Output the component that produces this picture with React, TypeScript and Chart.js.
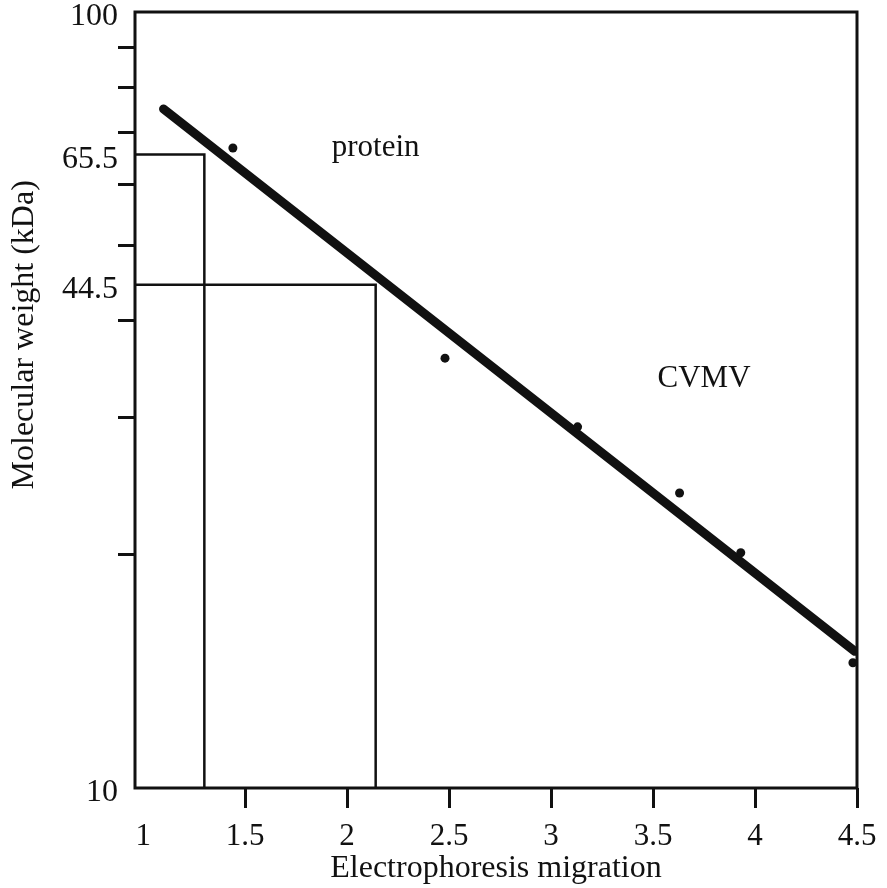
import React, { useEffect, useRef } from "react";
import { Chart, registerables } from "chart.js";

Chart.register(...registerables);

// ---- data ----
const xTickValues = [1, 1.5, 2, 2.5, 3, 3.5, 4, 4.5];
const yTickValues = [10, 20, 30, 40, 44.5, 50, 60, 65.5, 70, 80, 90, 100];
const yLabeledValues = [10, 44.5, 65.5, 100];

const migration = [1.44, 2.48, 3.13, 3.63, 3.93, 4.48];
const molecularWeight = [66.8, 35.8, 29.2, 24.0, 20.1, 14.5];

const fitMigration = [1.1, 4.49];
const fitWeight = [75, 15];

const proteinMigration = [1.3, 2.14];
const proteinWeight = [65.5, 44.5];

const annotationText = ["protein", "CVMV"];
const annotationMigration = [2.14, 3.75];
const annotationWeight = [66.8, 33.7];

const X_MIN = 0.96;
const X_MAX = 4.5;
const Y_MIN = 10;
const Y_MAX = 100;

const FONT_FAMILY = '"Liberation Serif", "Times New Roman", Times, serif';
const INK = "#111";

const overlayPlugin = {
  id: "overlay",
  afterDraw(chart: any) {
    const { ctx, chartArea: a, scales } = chart;
    ctx.save();
    ctx.strokeStyle = INK;
    ctx.lineWidth = 3;
    ctx.strokeRect(a.left, a.top, a.right - a.left, a.bottom - a.top);
    ctx.fillStyle = INK;
    ctx.font = `31px ${FONT_FAMILY}`;
    ctx.textAlign = "center";
    ctx.textBaseline = "middle";
    annotationText.forEach((t, i) => {
      ctx.fillText(
        t,
        scales.x.getPixelForValue(annotationMigration[i]),
        scales.y.getPixelForValue(annotationWeight[i])
      );
    });
    ctx.font = `32px ${FONT_FAMILY}`;
    ctx.translate(25, a.top + (a.bottom - a.top) * 0.416);
    ctx.rotate(-Math.PI / 2);
    ctx.fillText("Molecular weight (kDa)", 0, 0);
    ctx.restore();
  },
};

export default function App() {
  const ref = useRef<HTMLCanvasElement | null>(null);

  useEffect(() => {
    if (!ref.current) return;
    const refLine = (i: number) => [
      { x: X_MIN, y: proteinWeight[i] },
      { x: proteinMigration[i], y: proteinWeight[i] },
      { x: proteinMigration[i], y: Y_MIN },
    ];
    const chart = new Chart(ref.current, {
      type: "scatter",
      data: {
        datasets: [
          {
            data: migration.map((x, i) => ({ x, y: molecularWeight[i] })),
            backgroundColor: INK,
            borderColor: INK,
            pointRadius: 4.5,
            borderWidth: 0,
            showLine: false,
            order: 0,
          },
          {
            data: fitMigration.map((x, i) => ({ x, y: fitWeight[i] })),
            borderColor: INK,
            borderWidth: 9,
            borderCapStyle: "round",
            pointRadius: 0,
            showLine: true,
            order: 1,
          },
          {
            data: refLine(0),
            borderColor: INK,
            borderWidth: 2.5,
            pointRadius: 0,
            showLine: true,
            order: 2,
          },
          {
            data: refLine(1),
            borderColor: INK,
            borderWidth: 2.5,
            pointRadius: 0,
            showLine: true,
            order: 2,
          },
        ],
      } as any,
      options: {
        animation: false,
        responsive: false,
        devicePixelRatio: 1,
        layout: { padding: { left: 0, right: 30, top: 12, bottom: 0 } },
        plugins: { legend: { display: false }, tooltip: { enabled: false } },
        scales: {
          x: {
            type: "linear",
            min: X_MIN,
            max: X_MAX,
            afterBuildTicks: (s: any) => {
              s.ticks = xTickValues.map((v) => ({ value: v }));
            },
            afterFit: (s: any) => {
              s.height = 100;
              s.paddingLeft = 0;
              s.paddingRight = 0;
            },
            border: { display: false },
            grid: {
              drawOnChartArea: false,
              drawTicks: true,
              tickLength: 20,
              tickWidth: 3,
              tickColor: (c: any) => (c.tick && c.tick.value === 1 ? "rgba(0,0,0,0)" : INK),
            },
            ticks: {
              autoSkip: false,
              maxRotation: 0,
              padding: 10,
              color: INK,
              font: { family: FONT_FAMILY, size: 31 },
              callback: (v: any) => String(v),
            },
            title: {
              display: true,
              text: "Electrophoresis migration",
              color: INK,
              font: { family: FONT_FAMILY, size: 32 },
              padding: 0,
            },
          },
          y: {
            type: "logarithmic",
            min: Y_MIN,
            max: Y_MAX,
            afterBuildTicks: (s: any) => {
              s.ticks = yTickValues.map((v) => ({ value: v }));
            },
            afterFit: (s: any) => {
              s.width = 135;
              s.paddingTop = 0;
              s.paddingBottom = 0;
            },
            border: { display: false },
            grid: {
              drawOnChartArea: false,
              drawTicks: true,
              tickLength: 17,
              tickWidth: 3,
              tickColor: (c: any) =>
                c.tick && yLabeledValues.includes(c.tick.value) ? "rgba(0,0,0,0)" : INK,
            },
            ticks: {
              autoSkip: false,
              padding: 0,
              labelOffset: 5,
              color: INK,
              font: { family: FONT_FAMILY, size: 32 },
              callback: (v: any) => (yLabeledValues.includes(Number(v)) ? String(v) : ""),
            },
            title: { display: false },
          },
        },
      } as any,
      plugins: [overlayPlugin],
    });
    return () => chart.destroy();
  }, []);

  return (
    <div style={{ position: "absolute", left: 0, top: 0, width: 887, height: 888, background: "#fff" }}>
      <canvas ref={ref} width={887} height={888} style={{ width: 887, height: 888 }} />
    </div>
  );
}
